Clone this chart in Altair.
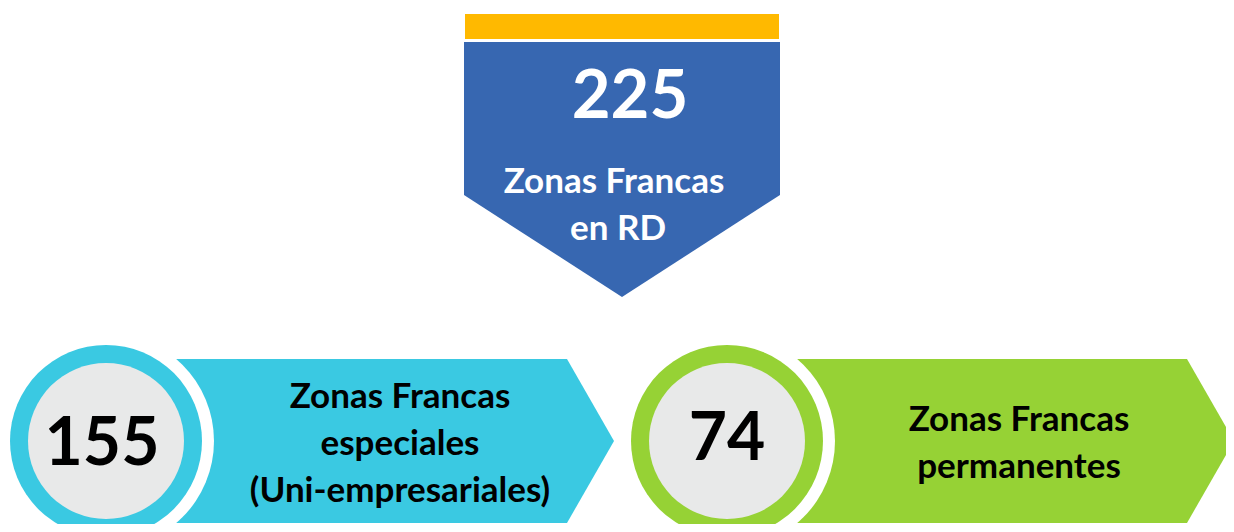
import altair as alt
import pandas as pd

# ---- content ----
total_value = [225]
total_label = ["Zonas Francas", "en RD"]
cat_values = [155, 74]
cat_labels = [
    ["Zonas Francas", "especiales", "(Uni-empresariales)"],
    ["Zonas Francas", "permanentes"],
]
cat_colors = ["#3AC9E2", "#96D235"]
blue = "#3767B1"
yellow = "#FFB900"
gray = "#E8E9E9"

# ---- layout (pixel positions in the 1234x532 window) ----
W, H = 1234, 532
M = 8
circle_cx = [106, 727]
circle_cy = 441
arrow_left = [150, 771]
arrow_corner = [567, 1187]
arrow_tip = [614, 1234]
arrow_top, arrow_bot = 359, 523
label_cx = [400, 1019]
label_baselines = [[408, 455, 502], [431, 478]]
num_x = [102, 727]
num_baseline = [465, 460]

xs = alt.Scale(domain=[M, W - M], nice=False, zero=False)
ys = alt.Scale(domain=[M, H - M], nice=False, zero=False, reverse=True)


def X(f="x"):
    return alt.X(f, type="quantitative", scale=xs, axis=None)


def Y(f="y"):
    return alt.Y(f, type="quantitative", scale=ys, axis=None)


layers = []

# top yellow bar
bar = pd.DataFrame({"x": [465], "x2": [779], "y": [14], "y2": [39]})
layers.append(alt.Chart(bar).mark_rect(color=yellow).encode(
    x=X(), x2="x2", y=Y(), y2="y2"))

# blue pentagon (pointing down)
pent = pd.DataFrame({"y": [42, 195, 297], "x": [464, 464, 622], "x2": [780, 780, 622]})
layers.append(alt.Chart(pent).mark_area(color=blue, orient="horizontal", opacity=1).encode(
    y=Y(), x=X(), x2="x2"))

# total number and label
t = pd.DataFrame({"x": [630], "y": [118], "t": [str(v) for v in total_value]})
layers.append(alt.Chart(t).mark_text(font="Lato", fontWeight="bold", fontSize=67,
                                     color="white", align="center", baseline="alphabetic").encode(
    x=X(), y=Y(), text="t:N"))
tl = pd.DataFrame({"x": [614, 618], "y": [193, 240], "t": total_label})
layers.append(alt.Chart(tl).mark_text(font="Lato", fontWeight="bold", fontSize=35,
                                      color="white", align="center", baseline="alphabetic").encode(
    x=X(), y=Y(), text="t:N"))

for i in range(2):
    arr = pd.DataFrame({
        "x": [arrow_left[i], arrow_corner[i], arrow_tip[i]],
        "y": [arrow_top, arrow_top, circle_cy],
        "y2": [arrow_bot, arrow_bot, circle_cy],
    })
    layers.append(alt.Chart(arr).mark_area(color=cat_colors[i], opacity=1).encode(
        x=X(), y=Y(), y2="y2"))
    c = pd.DataFrame({"x": [circle_cx[i]], "y": [circle_cy]})
    for col, d in [("white", 216), (cat_colors[i], 192), (gray, 156)]:
        layers.append(alt.Chart(c).mark_circle(color=col, opacity=1, size=d * d).encode(
            x=X(), y=Y()))
    n = pd.DataFrame({"x": [num_x[i]], "y": [num_baseline[i]], "t": [str(cat_values[i])]})
    layers.append(alt.Chart(n).mark_text(font="Lato", fontWeight="bold", fontSize=66,
                                         color="black", align="center", baseline="alphabetic").encode(
        x=X(), y=Y(), text="t:N"))
    lab = pd.DataFrame({"x": [label_cx[i]] * len(cat_labels[i]), "y": label_baselines[i],
                        "t": cat_labels[i]})
    layers.append(alt.Chart(lab).mark_text(font="Lato", fontWeight="bold", fontSize=35,
                                           color="black", align="center", baseline="alphabetic").encode(
        x=X(), y=Y(), text="t:N"))

chart = alt.layer(*layers).properties(
    width=W - 2 * M, height=H - 2 * M, autosize=alt.AutoSizeParams(type="none"), padding=0,
    background="white"
).configure_view(stroke=None)

chart.save("out.html", embed_options={"renderer": "svg", "actions": False})
